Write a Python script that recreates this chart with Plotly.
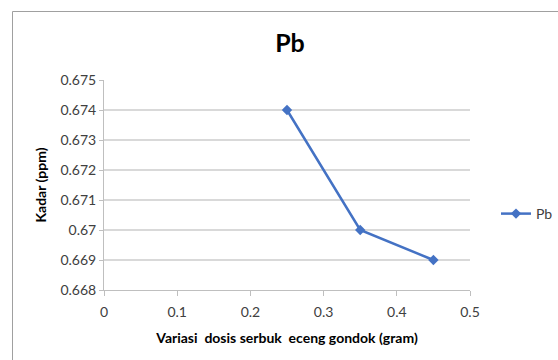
import plotly.graph_objects as go

x_dose = [0.25, 0.35, 0.45]
kadar_pb = [0.674, 0.670, 0.669]
series_name = "Pb"
title_text = "Pb"
x_title = "Variasi  dosis serbuk  eceng gondok (gram)"
y_title = "Kadar (ppm)"
y_tickvals = [0.668, 0.669, 0.67, 0.671, 0.672, 0.673, 0.674, 0.675]
y_ticktext = ["0.668", "0.669", "0.67", "0.671", "0.672", "0.673", "0.674", "0.675"]
x_tickvals = [0, 0.1, 0.2, 0.3, 0.4, 0.5]
x_ticktext = ["0", "0.1", "0.2", "0.3", "0.4", "0.5"]

FONT = "Lato, 'Open Sans', sans-serif"
BLUE = "#4472C4"

fig = go.Figure()
fig.add_trace(go.Scatter(
    x=x_dose, y=kadar_pb, name=series_name, mode="lines+markers",
    line=dict(color=BLUE, width=2.5),
    marker=dict(symbol="diamond", size=8, color=BLUE),
    showlegend=True,
))

L, R, T, B = 104, 88, 80, 70
W, H = 558, 360
pw, ph = W - L - R, H - T - B

def px2x(px):
    return (px - L) / pw

def py2y(py):
    return (H - B - py) / ph

fig.update_layout(
    width=W, height=H,
    margin=dict(l=L, r=R, t=T, b=B, autoexpand=False),
    paper_bgcolor="white", plot_bgcolor="white",
    font=dict(family=FONT, size=14, color="#404040"),
    title=dict(text="<b>" + title_text + "</b>", x=290 / W, xanchor="center",
               y=1 - 43 / H, yanchor="middle",
               font=dict(family=FONT, size=25, color="black")),
    xaxis=dict(range=[0, 0.5], tickvals=x_tickvals, ticktext=x_ticktext,
               showgrid=False, zeroline=False, showline=True, linecolor="#BFBFBF", linewidth=1,
               ticks="outside", ticklen=5, tickcolor="#BFBFBF", ticklabelstandoff=4,
               tickfont=dict(family=FONT, size=14, color="#404040"),
               title=dict(text="<b>" + x_title + "</b>", standoff=14,
                          font=dict(family=FONT, size=14, color="black"))),
    yaxis=dict(range=[0.668, 0.675], tickvals=y_tickvals, ticktext=y_ticktext,
               showgrid=True, gridcolor="#D9D9D9", gridwidth=1.5, zeroline=False,
               showline=True, linecolor="#BFBFBF", linewidth=1,
               ticks="outside", ticklen=4, tickcolor="#BFBFBF",
               tickfont=dict(family=FONT, size=14, color="#404040"),
               title=dict(text="<b>" + y_title + "</b>", standoff=10,
                          font=dict(family=FONT, size=14, color="black"))),
    legend=dict(x=px2x(496), y=py2y(214), xanchor="left", yanchor="middle",
                font=dict(family=FONT, size=14, color="#404040"),
                bgcolor="rgba(0,0,0,0)", itemwidth=30, tracegroupgap=0),
    shapes=[dict(type="rect", xref="paper", yref="paper",
                 x0=px2x(12.5), x1=px2x(620), y0=py2y(400), y1=py2y(11.5),
                 line=dict(color="#A0A0A0", width=1), fillcolor="rgba(0,0,0,0)", layer="below")],
)

fig.write_html("out.html")
